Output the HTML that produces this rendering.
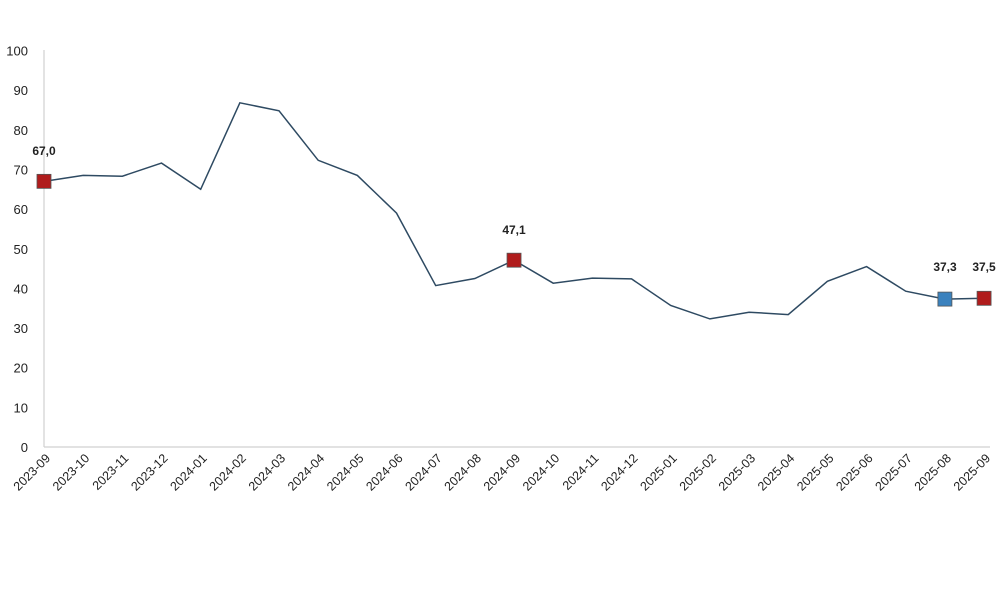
<!DOCTYPE html>
<html><head><meta charset="utf-8"><style>body{margin:0;background:#fff}svg{display:block}</style></head>
<body>
<svg width="1000" height="593" xmlns="http://www.w3.org/2000/svg" font-family="Liberation Sans, sans-serif">
<line x1="44" y1="50" x2="44" y2="447" stroke="#d0d0d0" stroke-width="1.2"/>
<line x1="44" y1="447" x2="990" y2="447" stroke="#d0d0d0" stroke-width="1.2"/>
<g font-size="13" text-anchor="end" fill="#222">
<text x="28" y="452">0</text>
<text x="28" y="412.35">10</text>
<text x="28" y="372.7">20</text>
<text x="28" y="333.05">30</text>
<text x="28" y="293.4">40</text>
<text x="28" y="253.75">50</text>
<text x="28" y="214.1">60</text>
<text x="28" y="174.45">70</text>
<text x="28" y="134.8">80</text>
<text x="28" y="95.15">90</text>
<text x="28" y="55.5">100</text>
</g>
<g font-size="12.5" text-anchor="end" fill="#222">
<text transform="translate(51,459) rotate(-45)">2023-09</text>
<text transform="translate(90.17,459) rotate(-45)">2023-10</text>
<text transform="translate(129.34,459) rotate(-45)">2023-11</text>
<text transform="translate(168.51,459) rotate(-45)">2023-12</text>
<text transform="translate(207.68,459) rotate(-45)">2024-01</text>
<text transform="translate(246.85,459) rotate(-45)">2024-02</text>
<text transform="translate(286.02,459) rotate(-45)">2024-03</text>
<text transform="translate(325.19,459) rotate(-45)">2024-04</text>
<text transform="translate(364.36,459) rotate(-45)">2024-05</text>
<text transform="translate(403.53,459) rotate(-45)">2024-06</text>
<text transform="translate(442.7,459) rotate(-45)">2024-07</text>
<text transform="translate(481.87,459) rotate(-45)">2024-08</text>
<text transform="translate(521.04,459) rotate(-45)">2024-09</text>
<text transform="translate(560.21,459) rotate(-45)">2024-10</text>
<text transform="translate(599.38,459) rotate(-45)">2024-11</text>
<text transform="translate(638.55,459) rotate(-45)">2024-12</text>
<text transform="translate(677.72,459) rotate(-45)">2025-01</text>
<text transform="translate(716.89,459) rotate(-45)">2025-02</text>
<text transform="translate(756.06,459) rotate(-45)">2025-03</text>
<text transform="translate(795.23,459) rotate(-45)">2025-04</text>
<text transform="translate(834.4,459) rotate(-45)">2025-05</text>
<text transform="translate(873.57,459) rotate(-45)">2025-06</text>
<text transform="translate(912.74,459) rotate(-45)">2025-07</text>
<text transform="translate(951.91,459) rotate(-45)">2025-08</text>
<text transform="translate(991.08,459) rotate(-45)">2025-09</text>
</g>
<polyline fill="none" stroke="#2e4a62" stroke-width="1.5" points="44,181.35 83.17,175.4 122.34,176.2 161.51,163.1 200.68,189.3 239.85,102.8 279.02,110.8 318.19,160.3 357.36,175.4 396.53,213.1 435.7,285.6 474.87,278.5 514.04,260.2 553.21,283.2 592.38,278.1 631.55,278.9 670.72,305.5 709.89,318.9 749.06,312.2 788.23,314.6 827.4,281.3 866.57,266.6 905.74,291.2 944.91,299.1 984.08,298.3"/>
<g stroke="#555" stroke-width="0.8">
<rect x="37" y="174.35" width="14" height="14" fill="#b01c1c"/>
<rect x="507.04" y="253.2" width="14" height="14" fill="#b01c1c"/>
<rect x="937.91" y="292.1" width="14" height="14" fill="#3b82be"/>
<rect x="977.08" y="291.3" width="14" height="14" fill="#b01c1c"/>
</g>
<g font-size="12" font-weight="bold" text-anchor="middle" fill="#222">
<text x="44" y="155">67,0</text>
<text x="514" y="234">47,1</text>
<text x="945" y="271">37,3</text>
<text x="984" y="271">37,5</text>
</g>
</svg>
</body></html>
